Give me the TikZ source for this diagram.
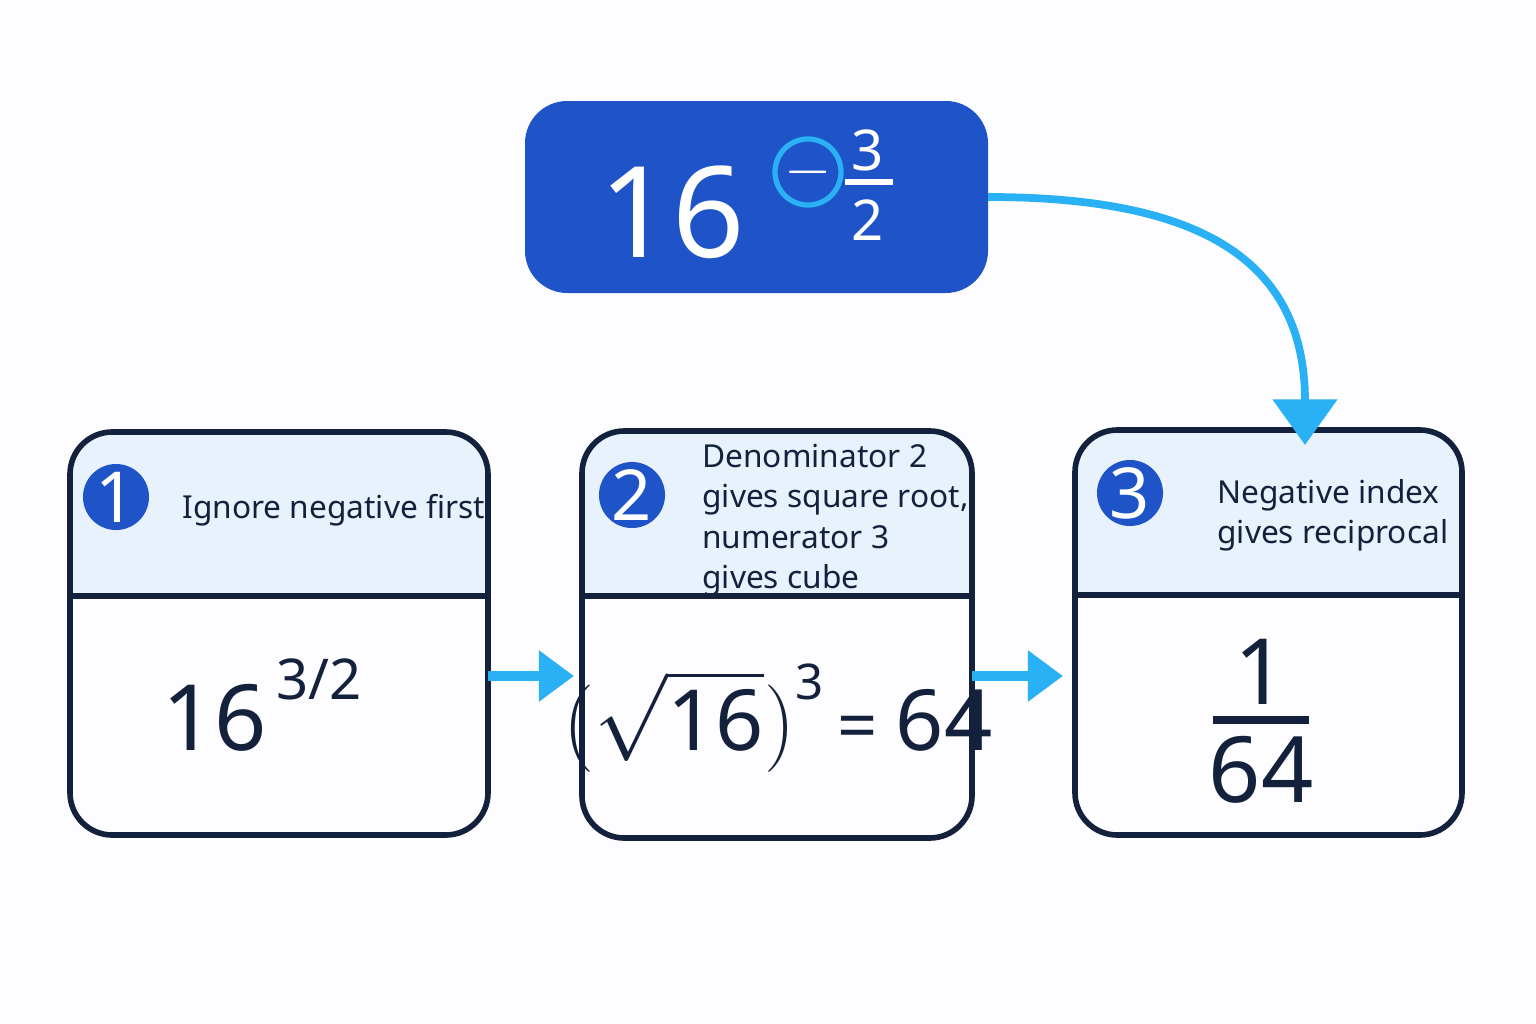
\documentclass[tikz,border=0pt]{standalone}
\usepackage{fontspec}
\setmainfont{Noto Sans}
\usetikzlibrary{positioning,arrows.meta}
\definecolor{deepblue}{HTML}{1F54C9}
\definecolor{skyblue}{HTML}{29B0F5}
\definecolor{paleblue}{HTML}{E8F2FD}
\definecolor{inkblue}{HTML}{14213D}
\begin{document}
\begin{tikzpicture}[
    x=0.01cm, y=-0.01cm,
    card/.style={draw=inkblue, line width=1.6pt, rounded corners=12pt},
    badge/.style={circle, fill=deepblue, text=white, minimum size=0.66cm, inner sep=0pt, font=\fontsize{20}{20}\selectfont},
    head/.style={anchor=west, align=left, text=inkblue, font=\fontsize{9}{11.5}\selectfont},
    body/.style={text=inkblue, font=\fontsize{26}{28}\selectfont},
    flow/.style={-{Triangle[length=10pt,width=14pt]}, skyblue, line width=3pt}
]
\fill[white!97!blue!20] (0,0) rectangle (1536,1024);

% Top expression
\fill[deepblue, rounded corners=12pt] (525,101) rectangle (988,293);
\node[text=white, font=\fontsize{36}{36}\selectfont] (base) at (672,212) {16};
\node[circle, draw=skyblue, line width=1.5pt, minimum size=0.66cm, inner sep=0pt, text=white, font=\fontsize{18}{18}\selectfont] (minus) at (808,172) {$-$};
\node[text=white, font=\fontsize{16}{16}\selectfont] (num) at (868,150) {3};
\node[text=white, font=\fontsize{16}{16}\selectfont] (den) at (868,220) {2};
\draw[white, line width=1.5pt] (845,182) -- (893,182);
\coordinate (src) at (988,197);

% Step cards
\fill[paleblue, rounded corners=12pt] (70,432) rectangle (488,596);
\fill[paleblue, rounded corners=12pt] (582,431) rectangle (972,596);
\fill[paleblue, rounded corners=12pt] (1075,430) rectangle (1462,595);
\fill[paleblue] (70,520) rectangle (488,596) (582,520) rectangle (972,596) (1075,520) rectangle (1462,595);
\draw[card] (70,432) rectangle (488,835);
\draw[card] (582,431) rectangle (972,838);
\draw[card] (1075,430) rectangle (1462,835);
\draw[inkblue, line width=1.6pt] (70,596) -- (488,596) (582,596) -- (972,596) (1075,595) -- (1462,595);

\node[badge] (b1) at (116,497) {1};
\node[badge] (b2) at (632,495) {2};
\node[badge] (b3) at (1130,493) {3};
\node[head] (h1) at (170,510) {Ignore negative first};
\node[head] (h2) at (690,520) {Denominator 2\\gives square root,\\numerator 3\\gives cube};
\node[head] (h3) at (1205,515) {Negative index\\gives reciprocal};

% Results
\node[body] (r1) at (262,705) {16\raisebox{0.55em}{\fontsize{16}{16}\selectfont\,3/2}};
\node[body] (r2) at (778,718) {\fontsize{24}{24}\selectfont$($$\sqrt{\mbox{16}}$$)$\raisebox{0.6em}{\fontsize{14}{14}\selectfont 3}\,\fontsize{20}{20}\selectfont= \fontsize{24}{24}\selectfont 64};
\node[body] (r3a) at (1261,672) {1};
\node[body] (r3b) at (1261,770) {64};
\draw[inkblue, line width=2pt] (1213,720) -- (1309,720);

% Connectors
\coordinate (c1) at (488,676);
\coordinate (c2) at (574,676);
\coordinate (c3) at (972,676);
\coordinate (c4) at (1063,676);
\coordinate (dst) at (1305,445);
\draw[flow] (c1) -- (c2);
\draw[flow] (c3) -- (c4);
\draw[skyblue, line width=2.2pt, -{Triangle[length=13pt,width=18pt]}]
  (src) .. controls (1200,197) and (1305,260) .. (dst);
\end{tikzpicture}
\end{document}
